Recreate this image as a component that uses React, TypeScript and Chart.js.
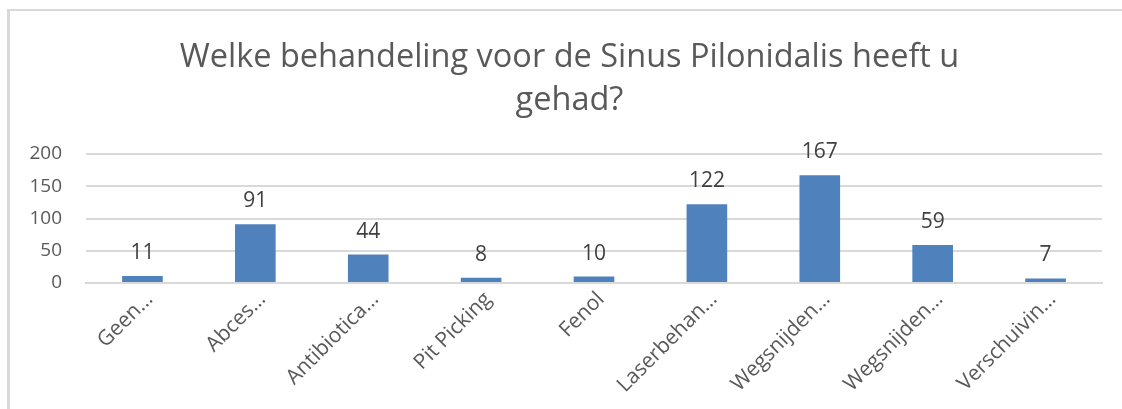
import React, { useEffect, useRef } from "react";
import { Chart, registerables } from "chart.js";

Chart.register(...registerables);

const titleLines = ["Welke behandeling voor de Sinus Pilonidalis heeft u", "gehad?"];
const categories = [
  "Geen…",
  "Abces…",
  "Antibiotica…",
  "Pit Picking",
  "Fenol",
  "Laserbehan…",
  "Wegsnijden…",
  "Wegsnijden…",
  "Verschuivin…",
];
const values = [11, 91, 44, 8, 10, 122, 167, 59, 7];
const yMin = 0;
const yMax = 200;
const yStep = 50;

const FONT = "'Open Sans', 'Liberation Sans', sans-serif";

const titleStyle = { size: 32.5, lineHeight: 43, top: 36, centerShift: 17, color: "#595959" };

const titlePlugin = {
  id: "centeredTitle",
  afterDraw(chart: any) {
    const ctx = chart.ctx;
    ctx.save();
    ctx.font = `${titleStyle.size}px ${FONT}`;
    ctx.fillStyle = titleStyle.color;
    ctx.textAlign = "center";
    ctx.textBaseline = "middle";
    const cx = (chart.width + titleStyle.centerShift) / 2;
    titleLines.forEach((line, i) => {
      ctx.fillText(line, cx, titleStyle.top + titleStyle.lineHeight * (i + 0.5));
    });
    ctx.restore();
  },
};

const dataLabelPlugin = {
  id: "dataLabels",
  afterDatasetsDraw(chart: any) {
    const ctx = chart.ctx;
    const meta = chart.getDatasetMeta(0);
    const ds = chart.data.datasets[0];
    ctx.save();
    ctx.font = `21px ${FONT}`;
    ctx.fillStyle = "#404040";
    ctx.textAlign = "center";
    ctx.textBaseline = "alphabetic";
    meta.data.forEach((bar: any, i: number) => {
      ctx.fillText(String(ds.data[i]), bar.x, bar.y - 17);
    });
    ctx.restore();
  },
};

export default function App() {
  const ref = useRef<HTMLCanvasElement>(null);
  useEffect(() => {
    document.body.style.margin = "0";
    const chart = new Chart(ref.current!, {
      type: "bar",
      data: {
        labels: categories,
        datasets: [
          {
            data: values,
            backgroundColor: "#4f81bd",
            borderColor: "#4f81bd",
            barPercentage: 0.36,
            categoryPercentage: 1,
          },
        ],
      },
      plugins: [dataLabelPlugin, titlePlugin],
      options: {
        animation: false,
        responsive: false,
        layout: { padding: { left: 0, right: 20, top: 154, bottom: 0 } },
        plugins: {
          legend: { display: false },
          tooltip: { enabled: false },
          title: { display: false },
        },
        scales: {
          x: {
            grid: { display: false, drawTicks: false },
            border: { display: true, color: "#d9d9d9", width: 2 },
            ticks: {
              color: "#595959",
              font: { family: FONT, size: 21, lineHeight: 1.2 },
              maxRotation: 45,
              minRotation: 45,
              autoSkip: false,
              padding: 4,
              labelOffset: 7,
            },
            afterFit: (s: any) => {
              s.height = 126;
            },
          },
          y: {
            min: yMin,
            max: yMax,
            grid: { color: "#d9d9d9", lineWidth: 2, drawTicks: false },
            border: { display: false },
            ticks: {
              stepSize: yStep,
              color: "#595959",
              font: { family: FONT, size: 19 },
              padding: 24,
            },
            afterFit: (s: any) => {
              s.width = 86;
            },
          },
        },
      },
    });
    return () => chart.destroy();
  }, []);
  return (
    <div style={{ position: "relative", width: 1122, height: 409, background: "#fff" }}>
      <div
        style={{
          position: "absolute",
          left: 7,
          top: 9,
          right: 0,
          bottom: 0,
          borderLeft: "3px solid #d9d9d9",
          borderTop: "2px solid #d9d9d9",
        }}
      />
      <canvas ref={ref} width={1122} height={409} style={{ position: "absolute", left: 0, top: 0 }} />
    </div>
  );
}
